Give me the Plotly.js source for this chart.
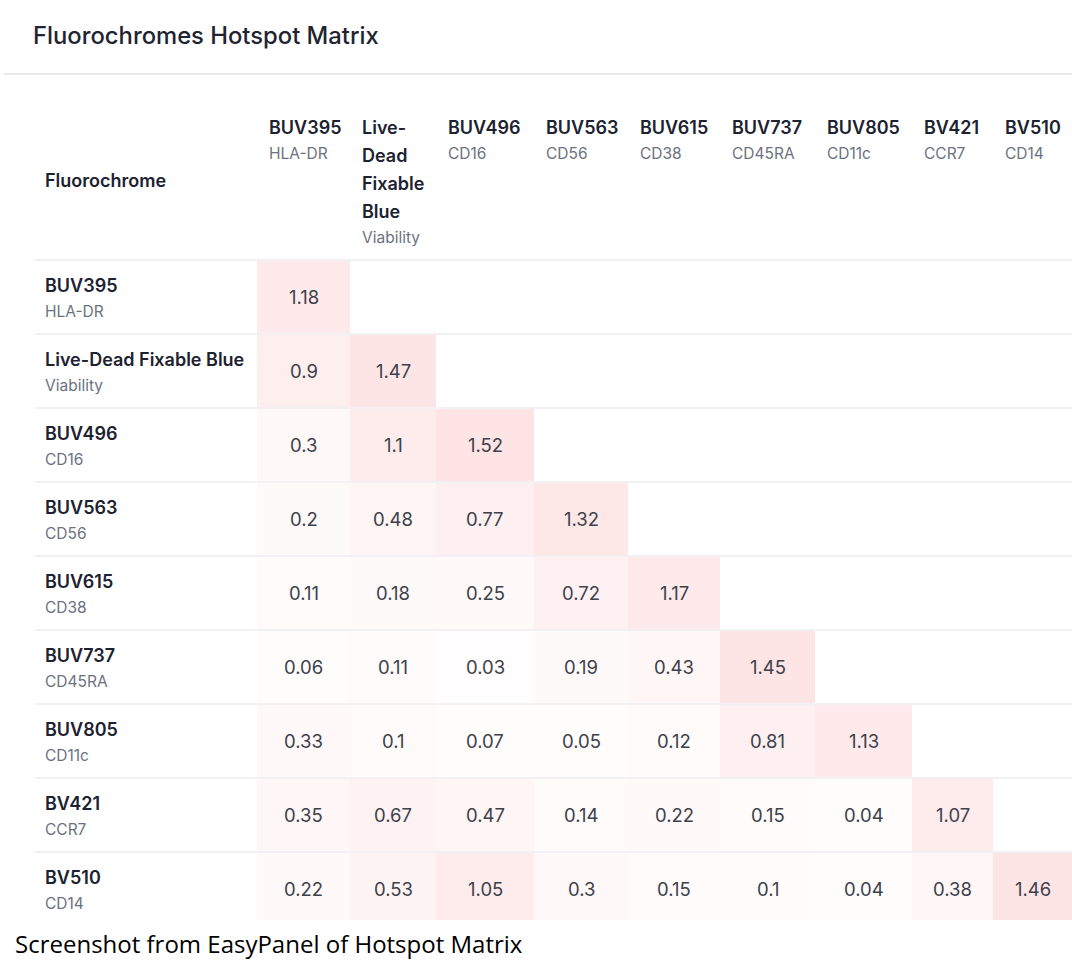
<!DOCTYPE html>
<html>
<head>
<meta charset="utf-8">
<script src="https://cdn.plot.ly/plotly-3.0.1.min.js"></script>
<style>html,body{margin:0;padding:0;background:#fff;}#chart{width:1072px;height:976px;}</style>
</head>
<body>
<div id="chart"></div>
<script>
// ---------- data ----------
const fluorochromes = ['BUV395', 'Live-Dead Fixable Blue', 'BUV496', 'BUV563', 'BUV615', 'BUV737', 'BUV805', 'BV421', 'BV510'];
const markers = ['HLA-DR', 'Viability', 'CD16', 'CD56', 'CD38', 'CD45RA', 'CD11c', 'CCR7', 'CD14'];
// column header lines (wrapped as in the table header)
const columnHeaderLines = [['BUV395'], ['Live-', 'Dead', 'Fixable', 'Blue'], ['BUV496'], ['BUV563'], ['BUV615'], ['BUV737'], ['BUV805'], ['BV421'], ['BV510']];
const rowBUV395 = [1.18];
const rowLiveDead = [0.9, 1.47];
const rowBUV496 = [0.3, 1.1, 1.52];
const rowBUV563 = [0.2, 0.48, 0.77, 1.32];
const rowBUV615 = [0.11, 0.18, 0.25, 0.72, 1.17];
const rowBUV737 = [0.06, 0.11, 0.03, 0.19, 0.43, 1.45];
const rowBUV805 = [0.33, 0.1, 0.07, 0.05, 0.12, 0.81, 1.13];
const rowBV421 = [0.35, 0.67, 0.47, 0.14, 0.22, 0.15, 0.04, 1.07];
const rowBV510 = [0.22, 0.53, 1.05, 0.3, 0.15, 0.1, 0.04, 0.38, 1.46];
const titleText = 'Fluorochromes Hotspot Matrix';
const headerText = 'Fluorochrome';
const captionText = 'Screenshot from EasyPanel of Hotspot Matrix';

// ---------- layout (pixel-space table geometry) ----------
const W = 1072, H = 976;
const tableLeft = 257;
const colWidths = [93, 86, 98, 94, 92, 95, 97, 81, 79];
const headerBottom = 260;
const rowHeights = [74, 74, 74, 74, 74, 74, 74, 74, 68];
const cellPad = 10;

const rows = [rowBUV395, rowLiveDead, rowBUV496, rowBUV563, rowBUV615, rowBUV737, rowBUV805, rowBV421, rowBV510];
const n = fluorochromes.length;
const z = rows.map(r => fluorochromes.map((_, j) => (j < r.length ? r[j] : null)));

const xEdges = [tableLeft];
colWidths.forEach(w => xEdges.push(xEdges[xEdges.length - 1] + w));
const yEdges = [headerBottom];
rowHeights.forEach(h => yEdges.push(yEdges[yEdges.length - 1] + h));

const FONT = 'Inter, "Open Sans", sans-serif';
const DARK = '#1d2230';
const GREY = '#6b7280';
const NUM = '#3c414c';
const BOLD = {family: FONT, size: 18, color: DARK, weight: 600};
const SUB = {family: FONT, size: 15.5, color: GREY};

const annotations = [];
function addText(text, x, y, opts) {
  annotations.push(Object.assign({
    text: text, x: x, y: y, xref: 'x', yref: 'y',
    xanchor: 'left', yanchor: 'middle', showarrow: false,
    font: {family: FONT, size: 16, color: DARK}
  }, opts || {}));
}

// title and caption
addText(titleText, 31, 35, {font: {family: FONT, size: 23.8, color: '#1f2430', weight: 500}});
addText(captionText, 13, 943, {font: {family: '"Open Sans", sans-serif', size: 24, color: '#000000'}});
// header
addText(headerText, 43, 180, {font: BOLD});
columnHeaderLines.forEach((lines, j) => {
  const x = xEdges[j] + cellPad;
  lines.forEach((ln, k) => addText(ln, x, 127 + 28 * k, {font: BOLD}));
  addText(markers[j], x, 127 + 28 * (lines.length - 1) + 26, {font: SUB});
});
// row labels and values
fluorochromes.forEach((f, i) => {
  const top = yEdges[i];
  addText(f, 43, top + 25, {font: BOLD});
  addText(markers[i], 43, top + 51, {font: SUB});
  rows[i].forEach((v, j) => {
    addText(String(v), (xEdges[j] + xEdges[j + 1]) / 2, top + 37,
      {xanchor: 'center', font: {family: FONT, size: 18.5, color: NUM}});
  });
});

// separators
const shapes = [];
shapes.push({type: 'line', xref: 'x', yref: 'y', x0: 4, x1: W, y0: 74, y1: 74, line: {color: '#e9e9ef', width: 2}, layer: 'above'});
for (let i = 0; i < n; i++) {
  shapes.push({type: 'line', xref: 'x', yref: 'y', x0: 35, x1: W, y0: yEdges[i], y1: yEdges[i], line: {color: '#f1f1f3', width: 2}, layer: 'above'});
}

const trace = {
  type: 'heatmap',
  x: xEdges, y: yEdges, z: z,
  zmin: 0, zmax: 1.52,
  colorscale: [[0, '#fffdfd'], [1, '#fee4e4']],
  showscale: false, hoverinfo: 'skip', xgap: 0, ygap: 0
};

const layout = {
  width: W, height: H,
  margin: {l: 0, r: 0, t: 0, b: 0},
  paper_bgcolor: '#ffffff', plot_bgcolor: '#ffffff',
  xaxis: {range: [0, W], visible: false, fixedrange: true},
  yaxis: {range: [H, 0], visible: false, fixedrange: true},
  annotations: annotations, shapes: shapes, showlegend: false
};

Plotly.newPlot('chart', [trace], layout, {staticPlot: true, displayModeBar: false});
</script>
</body>
</html>
